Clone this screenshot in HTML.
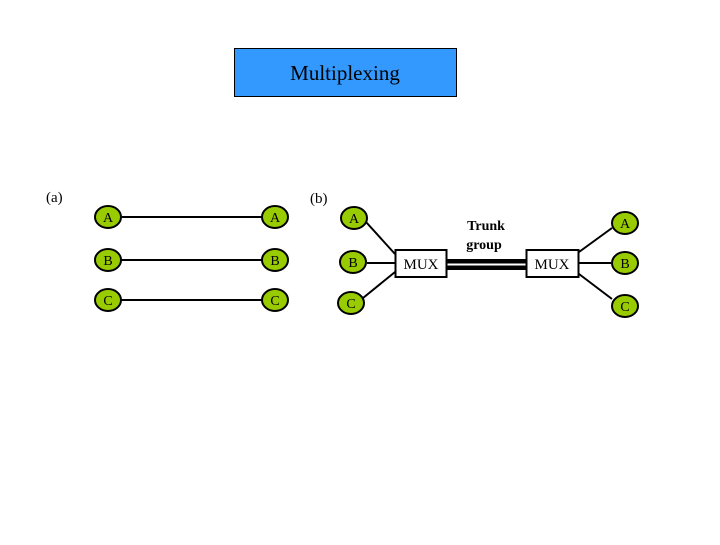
<!DOCTYPE html>
<html><head><meta charset="utf-8"><style>body{margin:0;background:#fff}</style></head><body>
<svg width="720" height="540" xmlns="http://www.w3.org/2000/svg" font-family="Liberation Serif, serif">
<rect x="0" y="0" width="720" height="540" fill="#fff"/>
<rect x="234.5" y="48.5" width="222" height="48" fill="#3399ff" stroke="#000" stroke-width="1"/>
<text x="345" y="80" font-size="21" text-anchor="middle">Multiplexing</text>
<text x="46" y="202" font-size="15">(a)</text>
<text x="310" y="203" font-size="15">(b)</text>
<g stroke="#000" stroke-width="2">
<line x1="121" y1="217" x2="262" y2="217"/>
<line x1="121" y1="260" x2="262" y2="260"/>
<line x1="121" y1="300" x2="262" y2="300"/>
<line x1="366" y1="222" x2="395" y2="254"/>
<line x1="367" y1="263" x2="395" y2="263"/>
<line x1="363" y1="298" x2="395" y2="272"/>
<line x1="579" y1="252" x2="612" y2="228"/>
<line x1="579" y1="263" x2="611" y2="263"/>
<line x1="579" y1="274" x2="612" y2="299"/>
</g>
<rect x="447" y="259" width="79" height="4.5" fill="#000"/>
<rect x="447" y="265.5" width="79" height="4.5" fill="#000"/>
<g fill="#99cc00" stroke="#000" stroke-width="2">
<ellipse cx="108" cy="217" rx="13" ry="11"/>
<ellipse cx="108" cy="260" rx="13" ry="11"/>
<ellipse cx="108" cy="300" rx="13" ry="11"/>
<ellipse cx="275" cy="217" rx="13" ry="11"/>
<ellipse cx="275" cy="260" rx="13" ry="11"/>
<ellipse cx="275" cy="300" rx="13" ry="11"/>
<ellipse cx="354" cy="218" rx="13" ry="11"/>
<ellipse cx="353" cy="262" rx="13" ry="11"/>
<ellipse cx="351" cy="303" rx="13" ry="11"/>
<ellipse cx="625" cy="223" rx="13" ry="11"/>
<ellipse cx="625" cy="263" rx="13" ry="11"/>
<ellipse cx="625" cy="306" rx="13" ry="11"/>
</g>
<g font-size="14" text-anchor="middle">
<text x="108" y="222">A</text><text x="108" y="265">B</text><text x="108" y="305">C</text>
<text x="275" y="222">A</text><text x="275" y="265">B</text><text x="275" y="305">C</text>
<text x="354" y="223">A</text><text x="353" y="267">B</text><text x="351" y="308">C</text>
<text x="625" y="228">A</text><text x="625" y="268">B</text><text x="625" y="311">C</text>
</g>
<rect x="395.5" y="250" width="51" height="27" fill="#fff" stroke="#000" stroke-width="2"/>
<rect x="526.5" y="250" width="52" height="27" fill="#fff" stroke="#000" stroke-width="2"/>
<text x="421" y="269" font-size="15" text-anchor="middle">MUX</text>
<text x="552" y="269" font-size="15" text-anchor="middle">MUX</text>
<text x="486" y="230" font-size="14" font-weight="bold" text-anchor="middle">Trunk</text>
<text x="484" y="249" font-size="14" font-weight="bold" text-anchor="middle">group</text>
</svg>
</body></html>
